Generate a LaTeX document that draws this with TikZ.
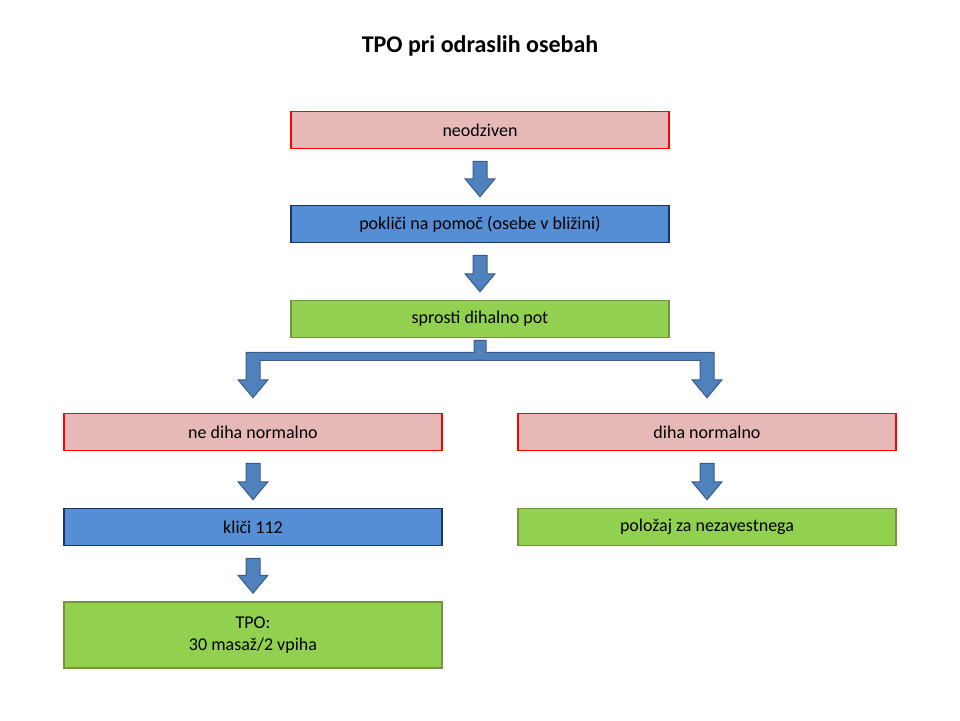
\documentclass[tikz,border=0pt]{standalone}
\usepackage{fontspec}
\setmainfont{Carlito}
\usetikzlibrary{calc}
\definecolor{redfill}{HTML}{E6B9B8}
\definecolor{bluefill}{HTML}{558ED5}
\definecolor{blueline}{HTML}{17375E}
\definecolor{greenfill}{HTML}{92D050}
\definecolor{greenline}{HTML}{77933C}
\definecolor{arrowfill}{HTML}{4F81BD}
\definecolor{arrowline}{HTML}{385D8A}
\tikzset{
  box/.style={draw, line width=1.5pt, minimum width=378pt, minimum height=37pt,
    inner sep=2pt, align=center, font=\fontsize{18}{22}\selectfont},
  redbox/.style={box, fill=redfill, draw=red},
  bluebox/.style={box, fill=bluefill, draw=blueline},
  greenbox/.style={box, fill=greenfill, draw=greenline},
  blockarrow/.style={fill=arrowfill, draw=arrowline, line width=1pt}
}
% vertical block arrow between two nodes
\newcommand{\blockarrow}[2]{%
  \path[blockarrow] let \p1=(#1.south), \p2=(#2.north) in
    (\x1-7pt,\y1-12pt) -- (\x1-7pt,\y2+26pt) -- (\x1-15pt,\y2+26pt) -- (\x1,\y2+8pt)
    -- (\x1+15pt,\y2+26pt) -- (\x1+7pt,\y2+26pt) -- (\x1+7pt,\y1-12pt) -- cycle;}

\begin{document}
\begin{tikzpicture}[x=1pt,y=-1pt]
  \useasboundingbox (0,0) rectangle (960,720);
  \node[font=\fontsize{24}{28}\selectfont\bfseries] (title) at (480,46) {TPO pri odraslih osebah};

  \node[redbox] (neodziven) at (480,130) {neodziven};
  \node[bluebox] (poklici) at (480,224) {pokliči na pomoč (osebe v bližini)};
  \node[greenbox] (sprosti) at (480,319) {sprosti dihalno pot};
  \node[redbox] (nediha) at (253,432) {ne diha normalno};
  \node[redbox] (diha) at (707,432) {diha normalno};
  \node[bluebox] (klici) at (253,527) {kliči 112};
  \node[greenbox] (polozaj) at (707,527) {položaj za nezavestnega};
  \node[greenbox, minimum height=66pt] (tpo) at (253,635) {TPO:\\30 masaž/2 vpiha};

  \blockarrow{neodziven}{poklici}
  \blockarrow{poklici}{sprosti}
  \blockarrow{nediha}{klici}
  \blockarrow{diha}{polozaj}
  \blockarrow{klici}{tpo}

  % split arrow
  \path[blockarrow] let \p1=(sprosti.south), \p2=(nediha.north), \p3=(diha.north) in
    (\x1-6pt,\y1-2pt) -- (\x1-6pt,\y1-14pt) -- (\x2-7pt,\y1-14pt) -- (\x2-7pt,\y2+33pt)
    -- (\x2-15pt,\y2+33pt) -- (\x2,\y2+15pt) -- (\x2+15pt,\y2+33pt) -- (\x2+7pt,\y2+33pt)
    -- (\x2+7pt,\y1-22pt) -- (\x3-7pt,\y1-22pt) -- (\x3-7pt,\y3+33pt) -- (\x3-15pt,\y3+33pt)
    -- (\x3,\y3+15pt) -- (\x3+15pt,\y3+33pt) -- (\x3+7pt,\y3+33pt) -- (\x3+7pt,\y1-14pt)
    -- (\x1+6pt,\y1-14pt) -- (\x1+6pt,\y1-2pt) -- cycle;
\end{tikzpicture}
\end{document}
